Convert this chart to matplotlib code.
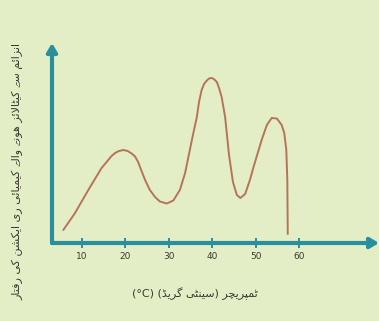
import matplotlib
matplotlib.use("Agg")
import matplotlib.pyplot as plt
import matplotlib.font_manager as fm

# ---------------- data ----------------
temperature = [5.7, 8.4, 11.45, 14.5, 16.8, 17.6, 18.5, 19.5, 20.5, 21.4, 22.2,
               22.9, 23.6, 24.5, 25.6, 26.8, 27.9, 29.5, 31.0, 32.5, 33.7,
               34.6, 35.5, 36.4, 36.9, 37.5, 38.05, 38.7, 39.2, 39.8, 40.3,
               41.0, 41.5, 42.1, 42.9, 43.8, 44.7, 45.6, 46.4, 47.5, 48.6,
               49.5, 51.3, 52.5, 53.6, 54.8, 55.9, 56.5, 56.97, 57.2, 57.3]
rate = [13, 30, 53, 75, 87, 90, 92, 93, 92, 89.5, 86.5,
        81, 73, 63, 53, 46, 41.5, 39.5, 42.5, 53, 70,
        89, 108, 126, 141, 153, 159, 162.5, 164.5, 165, 164,
        161, 155, 146, 126, 88, 61, 48, 45, 49, 63,
        77, 103, 118, 125, 124.5, 118, 110, 93, 63, 9]
tick_values = [10, 20, 30, 40, 50, 60]
tick_labels = ["10", "20", "30", "40", "50", "60"]
x_label_text = "ٹمپریچر (سینٹی گریڈ) (°C)"
y_label_text = "انزائم سے کیٹالائز ہونے والے کیمیائی ری ایکشن کی رفتار"


# ---------------- find installed families that carry given glyphs ----------------
def families_with(cp):
    fams = []
    try:
        from fontTools.ttLib import TTFont
    except Exception:
        return fams
    for f in fm.fontManager.ttflist:
        try:
            t = TTFont(f.fname, fontNumber=0, lazy=True)
            cmap = t.getBestCmap() or {}
            if cp in cmap and f.name not in fams:
                fams.append(f.name)
        except Exception:
            pass
    return fams


yb_final_fams = families_with(0xFBAF)
yb_base_fams = families_with(0x06D2)
if yb_final_fams:
    YB = (0xFBAE, 0xFBAF)
    extra_fams = yb_final_fams
elif yb_base_fams:
    YB = (0x06D2, 0x06D2)
    extra_fams = yb_base_fams
else:
    YB = (0xFBFC, 0xFBFD)
    extra_fams = []
FAMILY = ['DejaVu Sans'] + [f for f in extra_fams if f != 'DejaVu Sans']

# ---------------- minimal Arabic-script shaping for display ----------------
DUAL = {
    'ن': (0xFEE5, 0xFEE6, 0xFEE7, 0xFEE8), 'ئ': (0xFE89, 0xFE8A, 0xFE8B, 0xFE8C),
    'م': (0xFEE1, 0xFEE2, 0xFEE3, 0xFEE4), 'س': (0xFEB1, 0xFEB2, 0xFEB3, 0xFEB4),
    'ک': (0xFB8E, 0xFB8F, 0xFB90, 0xFB91), 'ی': (0xFBFC, 0xFBFD, 0xFBFE, 0xFBFF),
    'ٹ': (0xFB66, 0xFB67, 0xFB68, 0xFB69), 'ل': (0xFEDD, 0xFEDE, 0xFEDF, 0xFEE0),
    'ہ': (0xFBA6, 0xFBA7, 0xFEEB, 0xFBA9), 'ف': (0xFED1, 0xFED2, 0xFED3, 0xFED4),
    'ت': (0xFE95, 0xFE96, 0xFE97, 0xFE98), 'ش': (0xFEB5, 0xFEB6, 0xFEB7, 0xFEB8),
    'پ': (0xFB56, 0xFB57, 0xFB58, 0xFB59), 'چ': (0xFB7A, 0xFB7B, 0xFB7C, 0xFB7D),
    'گ': (0xFB92, 0xFB93, 0xFB94, 0xFB95),
}
RIGHT = {
    'ا': (0xFE8D, 0xFE8E), 'ز': (0xFEAF, 0xFEB0), 'ے': YB,
    'و': (0xFEED, 0xFEEE), 'ر': (0xFEAD, 0xFEAE), 'ڈ': (0xFB88, 0xFB89),
}


def shape(text):
    out = []
    n = len(text)
    i = 0
    while i < n:
        c = text[i]
        prev_j = i > 0 and text[i - 1] in DUAL
        if c == 'ل' and i + 1 < n and text[i + 1] == 'ا':
            out.append(chr(0xFEFC if prev_j else 0xFEFB))
            i += 2
            continue
        nxt = text[i + 1] if i + 1 < n else ''
        if c in DUAL:
            next_j = nxt in DUAL or nxt in RIGHT
            f = DUAL[c]
            if prev_j and next_j:
                out.append(chr(f[3]))
            elif prev_j:
                out.append(chr(f[1]))
            elif next_j:
                out.append(chr(f[2]))
            else:
                out.append(chr(f[0]))
        elif c in RIGHT:
            f = RIGHT[c]
            out.append(chr(f[1] if prev_j else f[0]))
        else:
            out.append(c)
        i += 1
    vis = ''.join(reversed(out))
    vis = vis.translate(str.maketrans('()', ')('))
    # keep Latin runs left-to-right
    res, run = [], []
    for ch in vis:
        if (ch.isascii() and ch.isalnum()) or ch == '°':
            run.append(ch)
        else:
            res.extend(reversed(run))
            run = []
            res.append(ch)
    res.extend(reversed(run))
    return ''.join(res)


# ---------------- figure ----------------
W, H = 379, 321
bg = "#e4eec6"
teal = "#2a8f9c"
curve = "#b5745a"
txt = "#3a3a30"

fig = plt.figure(figsize=(W / 100, H / 100), dpi=100, facecolor=bg)
x0_px, y0_px, top_px = 52, 243, 40
ax = fig.add_axes([x0_px / W, (H - y0_px) / H, (W - x0_px) / W, (y0_px - top_px) / H])
ax.set_facecolor(bg)
ax.set_xlim((x0_px - 38.5) / 4.35, (W - 38.5) / 4.35)
ax.set_ylim(0, y0_px - top_px)
for s in ax.spines.values():
    s.set_visible(False)

ax.plot(temperature, rate, color=curve, lw=1.4, solid_joinstyle='round',
        solid_capstyle='round', clip_on=False)

# axes arrows
ax.annotate("", xy=(1.0, 0), xytext=(0, 0), xycoords="axes fraction",
            arrowprops=dict(arrowstyle="-|>,head_length=0.5,head_width=0.3",
                            color=teal, lw=3.0, shrinkA=0, shrinkB=0))
ax.annotate("", xy=(0, 0.985), xytext=(0, 0), xycoords="axes fraction",
            arrowprops=dict(arrowstyle="-|>,head_length=0.5,head_width=0.3",
                            color=teal, lw=3.0, shrinkA=0, shrinkB=0))

ax.set_xticks(tick_values)
ax.set_xticklabels(tick_labels)
ax.set_yticks([])
ax.tick_params(axis='x', direction='inout', length=7, width=1.4, color=teal,
               labelsize=6.5, labelcolor=txt, pad=3)

fig.text(195 / W, 1 - 294 / H, shape(x_label_text), ha='center', va='center',
         fontsize=8, color=txt, family=FAMILY)
fig.text(18 / W, 1 - 172 / H, shape(y_label_text), ha='center', va='center',
         rotation=90, fontsize=8, color=txt, family=FAMILY)

fig.savefig("out.png", dpi=100, facecolor=bg)
